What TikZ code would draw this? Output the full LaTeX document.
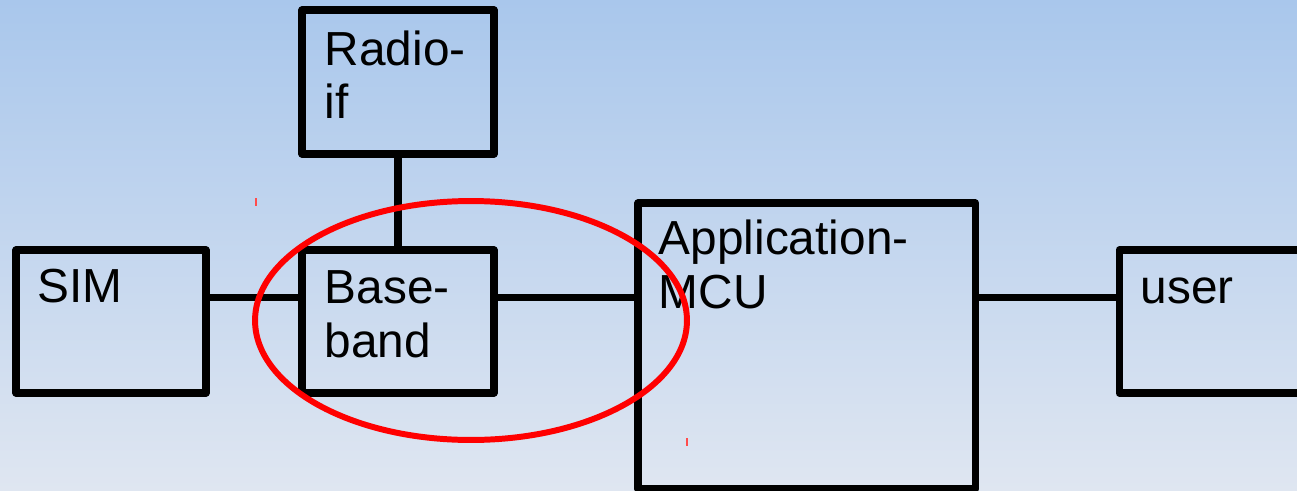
\documentclass[tikz,border=0pt]{standalone}
\usepackage{fontspec}
\setmainfont{Liberation Sans}
\usepackage{tikz}
\usetikzlibrary{
  positioning,
  calc
}
\definecolor{skytop}{HTML}{A9C7EC}
\definecolor{skybot}{HTML}{DFE6F1}

\begin{document}
\begin{tikzpicture}[
    x=0.02cm, y=-0.02cm,
    blk/.style={draw, line width=4pt, line join=round, inner sep=0pt,
                minimum width=#1},
    blk/.default=192*0.02cm,
    lbl/.style={anchor=base west, inner sep=0pt, align=left,
                font=\fontsize{27.2}{30.6}\selectfont},
    ln/.style={-, line width=4pt},
    ring/.style={draw=red, line width=3.4pt}
  ]
    \fill[top color=skytop, bottom color=skybot] (0,0) rectangle (1297,490);
    \useasboundingbox (0,0) rectangle (1297,490);
    \clip (0,0) rectangle (1297,490);
    \node[blk, minimum height=144*0.02cm] (radio) at (398,82) {};
    \node[blk=190*0.02cm, minimum height=143*0.02cm] (sim) at (111,321.5) {};
    \node[blk, minimum height=143*0.02cm] (base) at (398,321.5) {};
    \node[blk=337.5*0.02cm, minimum height=286*0.02cm] (app) at (806.75,346) {};
    \node[blk=191*0.02cm, minimum height=143*0.02cm] (user) at (1214.5,321.5) {};
    % two-line labels sit on their last baseline
    \node[lbl] (radioT) at ([shift={(0.52cm,-2.25cm)}]radio.north west) {Radio-\\if};
    \node[lbl] (simT) at ([shift={(0.50cm,-1.13cm)}]sim.north west) {SIM};
    \node[lbl] (baseT) at ([shift={(0.52cm,-2.22cm)}]base.north west) {Base-\\band};
    \node[lbl] (appT) at ([shift={(0.48cm,-2.18cm)}]app.north west) {Application-\\MCU};
    \node[lbl] (userT) at ([shift={(0.50cm,-1.15cm)}]user.north west) {user};
    \draw[ln] (radio) -- (base);
    \draw[ln] ([yshift=.48cm]sim.east) -- ([yshift=.48cm]base.west);
    \draw[ln] ([yshift=.48cm]base.east) -- ([yshift=.48cm]base.east -| app.west);
    \draw[ln] ([yshift=.48cm]user.west) -- ([yshift=.48cm]user.west -| app.east);
    \draw[ring] (471,320.5) ellipse [x radius=4.32cm, y radius=2.39cm];
    \draw[red!70, line width=0.8pt] (256,198) -- (256,206);
    \draw[red!70, line width=0.8pt] (687,438) -- (687,446);
  \end{tikzpicture}
\end{document}
